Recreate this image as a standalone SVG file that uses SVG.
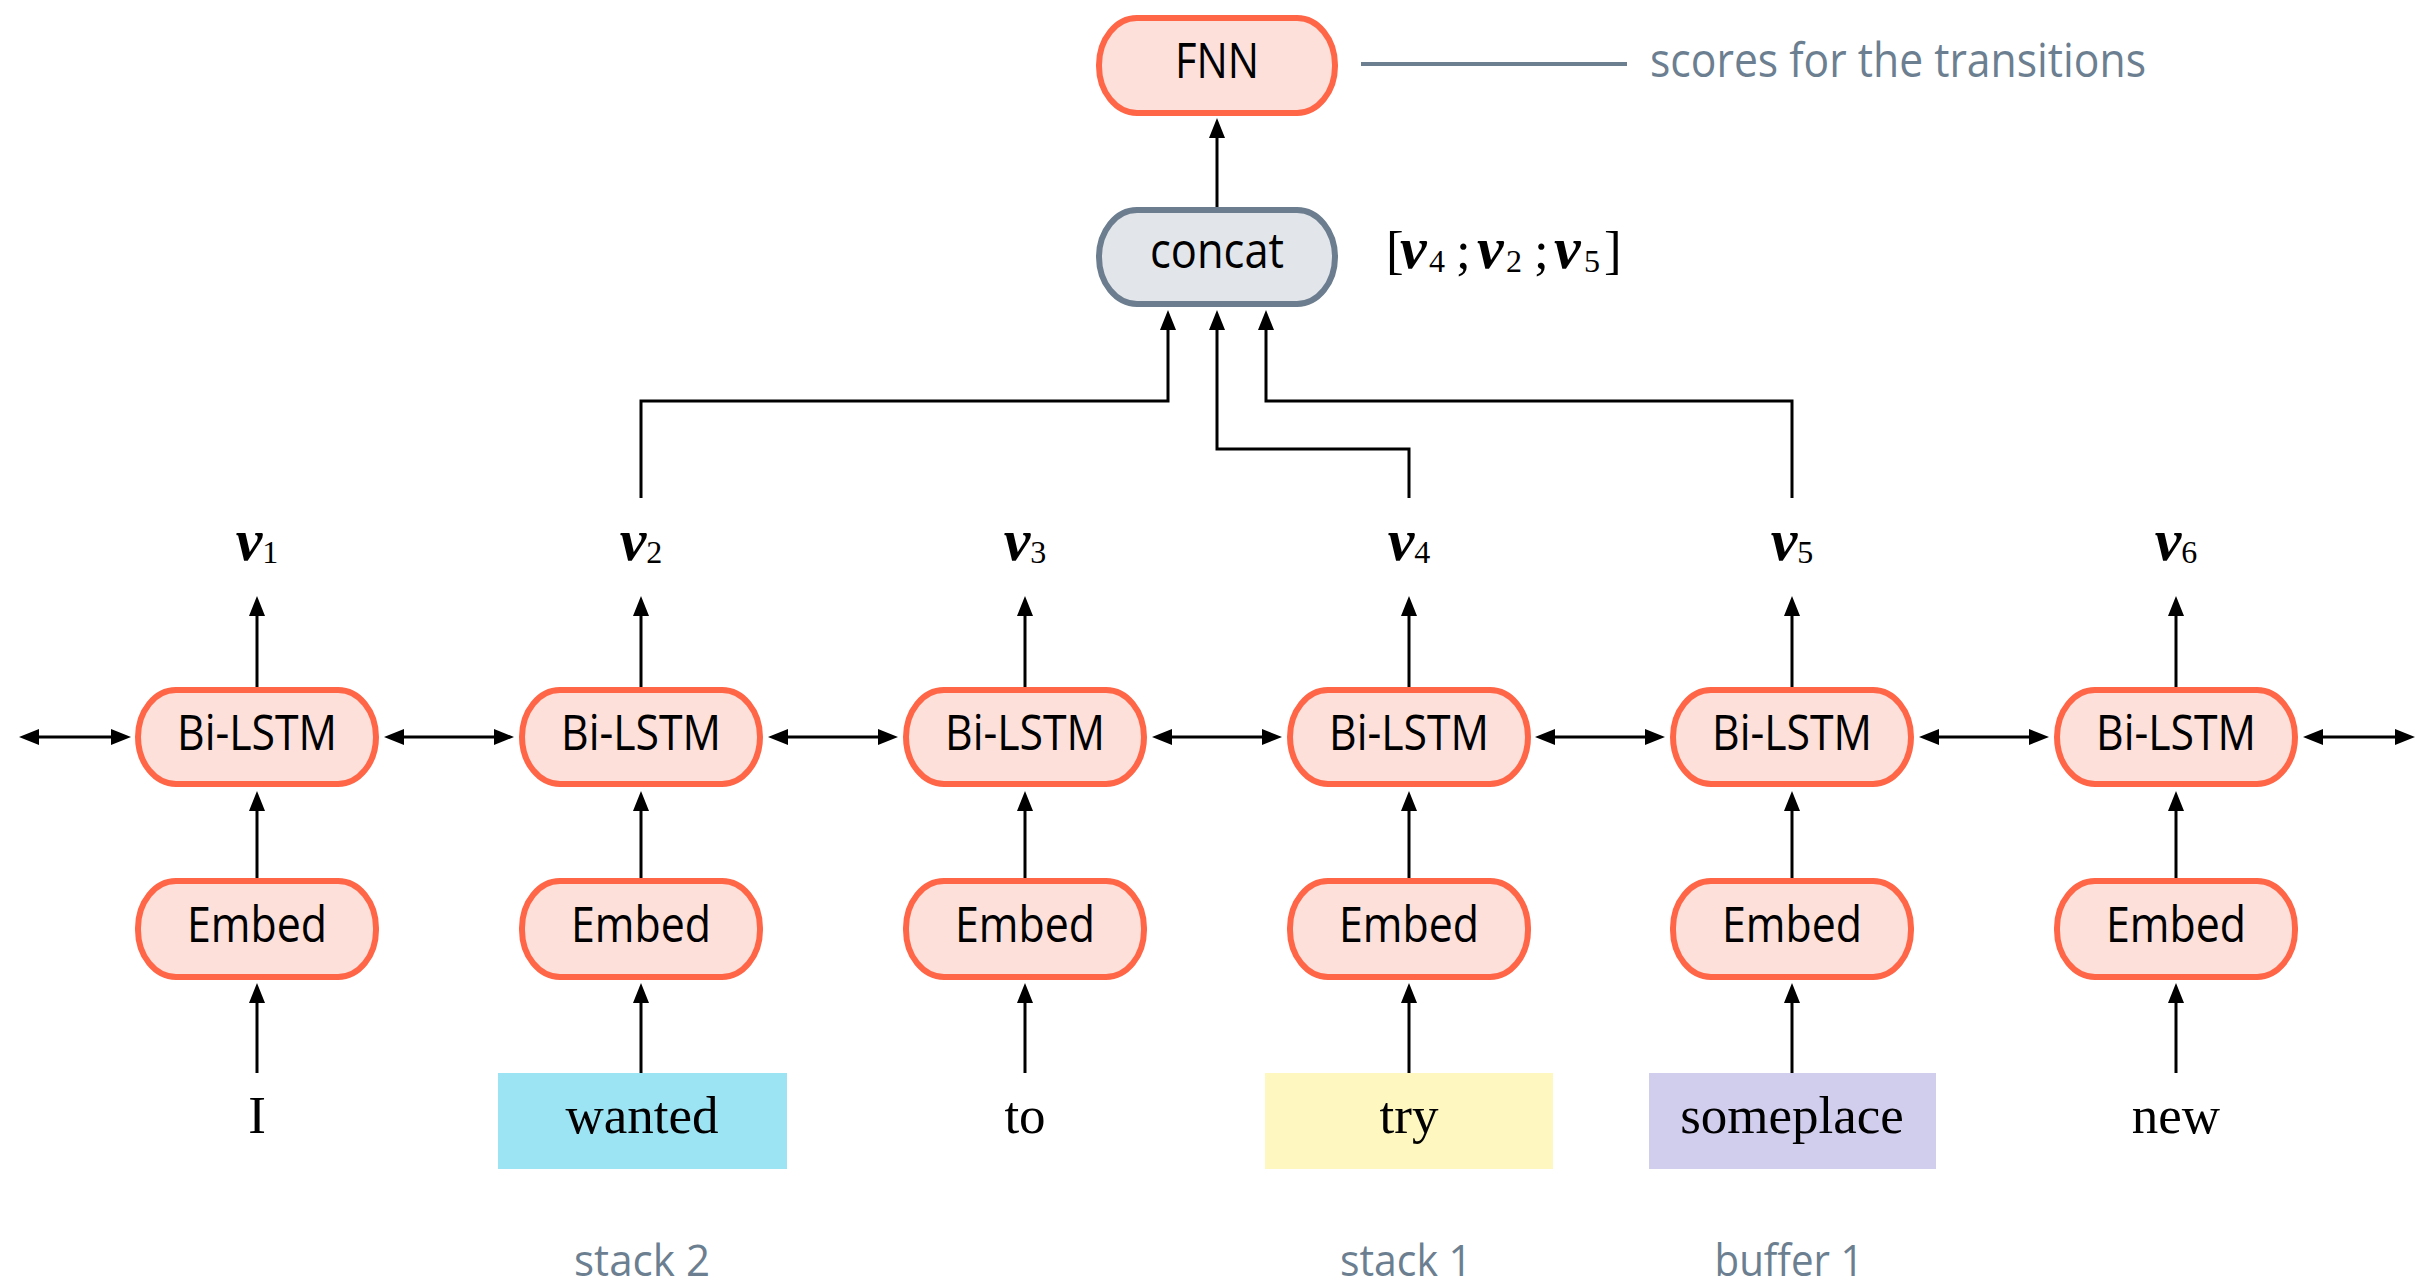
<svg xmlns="http://www.w3.org/2000/svg" width="2417" height="1287" viewBox="0 0 2417 1287">
<defs>
<marker id="ah" markerUnits="userSpaceOnUse" markerWidth="20" markerHeight="16" viewBox="0 0 20 16" refX="10" refY="8" orient="auto-start-reverse">
<path d="M0,0 L20,8 L0,16 z" fill="#000"/>
</marker>
<style>
.node{fill:#fde0da;stroke:#ff6647;stroke-width:6}
.gnode{fill:#e2e5e9;stroke:#6b7d8e;stroke-width:6}
.lbl{font-family:"Open Sans","Liberation Sans",sans-serif;font-size:49px;fill:#000;text-anchor:middle}
.word{font-family:"Liberation Serif",serif;font-size:53px;fill:#000;text-anchor:middle}
.note{font-family:"Open Sans","Liberation Sans",sans-serif;font-size:48px;fill:#6c7f91}
.btm{font-family:"Open Sans","Liberation Sans",sans-serif;font-size:44px;fill:#6c7f91;text-anchor:middle}
.vv{font-family:"Liberation Serif",serif;font-size:60px;font-weight:bold;font-style:italic}
.sub{font-family:"Liberation Serif",serif;font-size:32px;font-weight:normal;font-style:normal}
.math{font-family:"Liberation Serif",serif;font-size:53px;fill:#000}
.c{fill:none;stroke:#000;stroke-width:3}
.a{fill:none;stroke:#000;stroke-width:3;marker-end:url(#ah)}
.d{fill:none;stroke:#000;stroke-width:3;marker-end:url(#ah);marker-start:url(#ah)}
</style>
</defs>
<rect width="2417" height="1287" fill="#fff"/>

<g id="connectors">
<line class="a" x1="1217" y1="207" x2="1217" y2="128"/>
<polyline class="a" points="641,498 641,401 1168,401 1168,320"/>
<polyline class="a" points="1409,498 1409,449 1217,449 1217,320"/>
<polyline class="a" points="1792,498 1792,401 1266,401 1266,320"/>
<line x1="1361" y1="64" x2="1627" y2="64" stroke="#6c7f91" stroke-width="4"/>
<line class="d" x1="29" y1="737" x2="121" y2="737"/>
<line class="d" x1="394" y1="737" x2="504" y2="737"/>
<line class="d" x1="778" y1="737" x2="888" y2="737"/>
<line class="d" x1="1162" y1="737" x2="1272" y2="737"/>
<line class="d" x1="1545" y1="737" x2="1655" y2="737"/>
<line class="d" x1="1929" y1="737" x2="2039" y2="737"/>
<line class="d" x1="2313" y1="737" x2="2405" y2="737"/>
<g id="up-v">
<line class="a" x1="257" y1="687" x2="257" y2="606"/>
<line class="a" x1="641" y1="687" x2="641" y2="606"/>
<line class="a" x1="1025" y1="687" x2="1025" y2="606"/>
<line class="a" x1="1409" y1="687" x2="1409" y2="606"/>
<line class="a" x1="1792" y1="687" x2="1792" y2="606"/>
<line class="a" x1="2176" y1="687" x2="2176" y2="606"/>
</g>
<g id="up-lstm">
<line class="a" x1="257" y1="878" x2="257" y2="801"/>
<line class="a" x1="641" y1="878" x2="641" y2="801"/>
<line class="a" x1="1025" y1="878" x2="1025" y2="801"/>
<line class="a" x1="1409" y1="878" x2="1409" y2="801"/>
<line class="a" x1="1792" y1="878" x2="1792" y2="801"/>
<line class="a" x1="2176" y1="878" x2="2176" y2="801"/>
</g>
<g id="up-embed">
<line class="a" x1="257" y1="1073" x2="257" y2="993"/>
<line class="a" x1="641" y1="1073" x2="641" y2="993"/>
<line class="a" x1="1025" y1="1073" x2="1025" y2="993"/>
<line class="a" x1="1409" y1="1073" x2="1409" y2="993"/>
<line class="a" x1="1792" y1="1073" x2="1792" y2="993"/>
<line class="a" x1="2176" y1="1073" x2="2176" y2="993"/>
</g>
</g>

<g id="fnn">
<rect class="node" x="1099" y="18" width="236" height="95" rx="38" ry="47"/>
<text class="lbl" x="1217" y="78" textLength="84" lengthAdjust="spacingAndGlyphs">FNN</text>
</g>
<g id="scores-label">
<text class="note" x="1650" y="77" textLength="496" lengthAdjust="spacingAndGlyphs">scores for the transitions</text>
</g>
<g id="concat">
<rect class="gnode" x="1099" y="210" width="236" height="94" rx="38" ry="47"/>
<text class="lbl" x="1217" y="268" textLength="134" lengthAdjust="spacingAndGlyphs">concat</text>
</g>
<g id="concat-label">
<text class="math" y="268"><tspan x="1386">[</tspan><tspan class="vv" x="1400">v</tspan><tspan class="sub" x="1429" dy="4">4</tspan><tspan x="1456" dy="-4">;</tspan><tspan class="vv" x="1477">v</tspan><tspan class="sub" x="1506" dy="4">2</tspan><tspan x="1534" dy="-4">;</tspan><tspan class="vv" x="1554">v</tspan><tspan class="sub" x="1584" dy="4">5</tspan><tspan x="1604" dy="-4">]</tspan></text>
</g>

<g id="col1">
<text class="word" x="257" y="560"><tspan class="vv">v</tspan><tspan class="sub" dy="3">1</tspan></text>
<rect class="node" x="138" y="690" width="238" height="94" rx="38" ry="47"/>
<text class="lbl" x="257" y="750" textLength="160" lengthAdjust="spacingAndGlyphs">Bi-LSTM</text>
<rect class="node" x="138" y="881" width="238" height="96" rx="38" ry="47"/>
<text class="lbl" x="257" y="942" textLength="140" lengthAdjust="spacingAndGlyphs">Embed</text>
<text class="word" x="257" y="1133">I</text>
</g>
<g id="col2">
<text class="word" x="641" y="560"><tspan class="vv">v</tspan><tspan class="sub" dy="3">2</tspan></text>
<rect class="node" x="522" y="690" width="238" height="94" rx="38" ry="47"/>
<text class="lbl" x="641" y="750" textLength="160" lengthAdjust="spacingAndGlyphs">Bi-LSTM</text>
<rect class="node" x="522" y="881" width="238" height="96" rx="38" ry="47"/>
<text class="lbl" x="641" y="942" textLength="140" lengthAdjust="spacingAndGlyphs">Embed</text>
<rect x="498" y="1073" width="289" height="96" fill="#9ce3f3"/>
<text class="word" x="642" y="1133">wanted</text>
<text class="btm" x="642" y="1276" textLength="136" lengthAdjust="spacingAndGlyphs">stack 2</text>
</g>
<g id="col3">
<text class="word" x="1025" y="560"><tspan class="vv">v</tspan><tspan class="sub" dy="3">3</tspan></text>
<rect class="node" x="906" y="690" width="238" height="94" rx="38" ry="47"/>
<text class="lbl" x="1025" y="750" textLength="160" lengthAdjust="spacingAndGlyphs">Bi-LSTM</text>
<rect class="node" x="906" y="881" width="238" height="96" rx="38" ry="47"/>
<text class="lbl" x="1025" y="942" textLength="140" lengthAdjust="spacingAndGlyphs">Embed</text>
<text class="word" x="1025" y="1133">to</text>
</g>
<g id="col4">
<text class="word" x="1409" y="560"><tspan class="vv">v</tspan><tspan class="sub" dy="3">4</tspan></text>
<rect class="node" x="1290" y="690" width="238" height="94" rx="38" ry="47"/>
<text class="lbl" x="1409" y="750" textLength="160" lengthAdjust="spacingAndGlyphs">Bi-LSTM</text>
<rect class="node" x="1290" y="881" width="238" height="96" rx="38" ry="47"/>
<text class="lbl" x="1409" y="942" textLength="140" lengthAdjust="spacingAndGlyphs">Embed</text>
<rect x="1265" y="1073" width="288" height="96" fill="#fef7c0"/>
<text class="word" x="1409" y="1133">try</text>
<text class="btm" x="1406" y="1276" textLength="132" lengthAdjust="spacingAndGlyphs">stack 1</text>
</g>
<g id="col5">
<text class="word" x="1792" y="560"><tspan class="vv">v</tspan><tspan class="sub" dy="3">5</tspan></text>
<rect class="node" x="1673" y="690" width="238" height="94" rx="38" ry="47"/>
<text class="lbl" x="1792" y="750" textLength="160" lengthAdjust="spacingAndGlyphs">Bi-LSTM</text>
<rect class="node" x="1673" y="881" width="238" height="96" rx="38" ry="47"/>
<text class="lbl" x="1792" y="942" textLength="140" lengthAdjust="spacingAndGlyphs">Embed</text>
<rect x="1649" y="1073" width="287" height="96" fill="#d1cdec"/>
<text class="word" x="1792" y="1133">someplace</text>
<text class="btm" x="1789" y="1276" textLength="149" lengthAdjust="spacingAndGlyphs">buffer 1</text>
</g>
<g id="col6">
<text class="word" x="2176" y="560"><tspan class="vv">v</tspan><tspan class="sub" dy="3">6</tspan></text>
<rect class="node" x="2057" y="690" width="238" height="94" rx="38" ry="47"/>
<text class="lbl" x="2176" y="750" textLength="160" lengthAdjust="spacingAndGlyphs">Bi-LSTM</text>
<rect class="node" x="2057" y="881" width="238" height="96" rx="38" ry="47"/>
<text class="lbl" x="2176" y="942" textLength="140" lengthAdjust="spacingAndGlyphs">Embed</text>
<text class="word" x="2176" y="1133">new</text>
</g>
</svg>
